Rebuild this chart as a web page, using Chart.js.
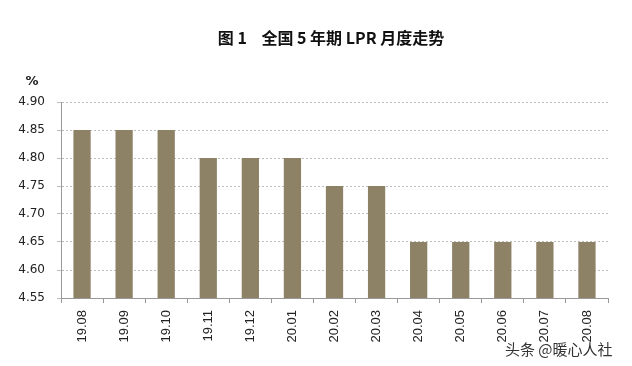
<!DOCTYPE html>
<html><head><meta charset="utf-8">
<script src="https://cdn.jsdelivr.net/npm/chart.js@4/dist/chart.umd.min.js"></script>
<style>html,body{margin:0;padding:0;background:#fff;}#wrap{width:632px;height:366px;position:relative;}</style>
</head><body><div id="wrap"><canvas id="c" width="632" height="366"></canvas></div>
<script>
const categories = ["19.08","19.09","19.10","19.11","19.12","20.01","20.02","20.03","20.04","20.05","20.06","20.07","20.08"];
const lprValues = [4.85,4.85,4.85,4.80,4.80,4.80,4.75,4.75,4.65,4.65,4.65,4.65,4.65];
const yTicks = [4.55,4.60,4.65,4.70,4.75,4.80,4.85,4.90];
const titleText = "图 1    全国 5 年期 LPR 月度走势";
const unitText = "%";
const watermarkText = "头条 @暖心人社";

const textPlugin = {
  id: 'texts',
  afterDraw(chart) {
    const ctx = chart.ctx;
    ctx.save();
    ctx.fillStyle = '#111';
    ctx.font = 'bold 16px "Noto Sans CJK SC"';
    ctx.textAlign = 'center';
    ctx.textBaseline = 'middle';
    ctx.fillText(titleText, 331, 38);
    ctx.font = 'bold 13px "DejaVu Sans"';
    ctx.fillStyle = '#222';
    ctx.fillText(unitText, 32, 82);
    ctx.font = '15px "Noto Sans CJK SC"';
    ctx.textAlign = 'left';
    ctx.fillStyle = '#333';
    ctx.fillText(watermarkText, 505, 349);
    ctx.restore();
  }
};

new Chart(document.getElementById('c'), {
  type: 'bar',
  data: {
    labels: categories,
    datasets: [{ data: lprValues, backgroundColor: '#8d8166', categoryPercentage: 1, barPercentage: 0.41 }]
  },
  options: {
    responsive: false,
    animation: false,
    layout: { padding: { top: 102, right: 24, left: 0, bottom: 0 } },
    plugins: { legend: { display: false }, tooltip: { enabled: false } },
    scales: {
      x: {
        afterFit(s) { s.height = 68; },
        grid: { offset: true, drawOnChartArea: false, tickLength: 5, color: '#999' },
        border: { color: '#999', width: 1 },
        ticks: { minRotation: 90, maxRotation: 90, padding: 7, color: '#222', font: { family: 'Liberation Sans', size: 13 } }
      },
      y: {
        min: 4.55, max: 4.90,
        afterFit(s) { s.width = 61; },
        afterBuildTicks(s) { s.ticks = yTicks.map(v => ({ value: v })); },
        grid: { color: '#bdbdbd', tickLength: 4 },
        border: { color: '#999', width: 1, dash: [2, 2] },
        ticks: { padding: 12, color: '#222', font: { family: 'DejaVu Sans', size: 12 }, callback: v => Number(v).toFixed(2) }
      }
    }
  },
  plugins: [textPlugin]
});
</script></body></html>
